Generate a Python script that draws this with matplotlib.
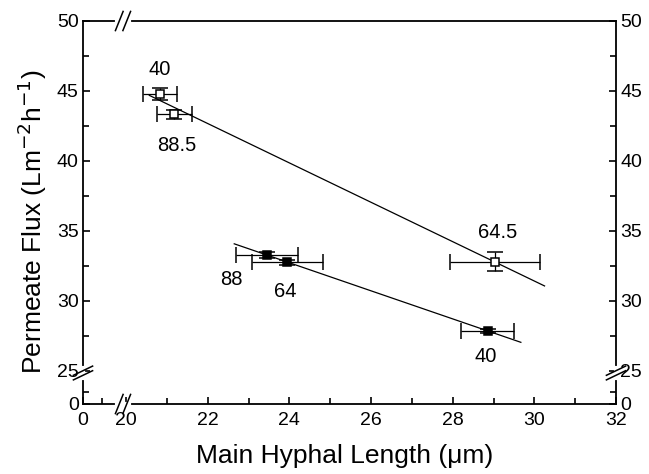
import numpy as np
import matplotlib
matplotlib.use("Agg")
import matplotlib.pyplot as plt
from matplotlib.scale import FuncScale

plt.rcParams['font.family'] = ['Liberation Sans', 'DejaVu Sans']

# ---- data ----
open_x = [20.83, 21.18, 29.03]
open_y = [44.79, 43.34, 32.81]
open_xerr = [0.42, 0.43, 1.10]
open_yerr = [0.44, 0.33, 0.69]
open_labels = ["40", "88.5", "64.5"]
open_label_pos = [(20.83, 46.5), (21.25, 41.1), (29.09, 34.9)]
open_fit_range = [20.57, 30.25]

fill_x = [23.46, 23.95, 28.86]
fill_y = [33.29, 32.76, 27.86]
fill_xerr = [0.76, 0.87, 0.65]
fill_yerr = [0.20, 0.20, 0.15]
fill_labels = ["88", "64", "40"]
fill_label_pos = [(22.57, 31.5), (23.91, 30.7), (28.8, 26.05)]
fill_fit_range = [22.65, 29.67]

x_major = [0, 20, 22, 24, 26, 28, 30, 32]
x_minor = [9, 21, 23, 25, 27, 29, 31]
y_major = [0, 25, 30, 35, 40, 45, 50]
y_minor = [9, 27.5, 32.5, 37.5, 42.5, 47.5]

# ---- broken-axis scales ----
X0 = 18.946
Y0 = 22.64

def fx(x):
    x = np.asarray(x, float)
    return np.where(x < 20, X0 + x * (20 - X0) / 20, x)

def ix(u):
    u = np.asarray(u, float)
    return np.where(u < 20, (u - X0) * 20 / (20 - X0), u)

def fy(y):
    y = np.asarray(y, float)
    return np.where(y < 25, Y0 + y * (25 - Y0) / 25, y)

def iy(v):
    v = np.asarray(v, float)
    return np.where(v < 25, (v - Y0) * 25 / (25 - Y0), v)

fig = plt.figure(figsize=(6.49, 4.74), dpi=100)
ax = fig.add_axes([83/649, 1 - 404/474, (616-83)/649, (404-21)/474])
ax.set_xscale(FuncScale(ax, (fx, ix)))
ax.set_yscale(FuncScale(ax, (fy, iy)))
ax.set_xlim(0, 32)
ax.set_ylim(0, 50)

lw = 0.9
# error bars + markers
ax.errorbar(open_x, open_y, xerr=open_xerr, yerr=open_yerr, fmt='s',
            mfc='white', mec='black', ms=5.5, mew=1.1, ecolor='black',
            elinewidth=lw, capsize=5.5, capthick=1.3, zorder=3)
ax.errorbar(fill_x, fill_y, xerr=fill_xerr, yerr=fill_yerr, fmt='s',
            mfc='black', mec='black', ms=5.5, mew=1.1, ecolor='black',
            elinewidth=lw, capsize=5.5, capthick=1.3, zorder=3)

# linear fits
for xs, ys, rng in [(open_x, open_y, open_fit_range), (fill_x, fill_y, fill_fit_range)]:
    p = np.polyfit(xs, ys, 1)
    xx = np.array(rng)
    ax.plot(xx, np.polyval(p, xx), color='black', lw=lw, zorder=2)

for lab, (tx, ty) in zip(open_labels + fill_labels, open_label_pos + fill_label_pos):
    ax.text(tx, ty, lab, ha='center', va='center', fontsize=14.5)

# ticks
ax.set_xticks(x_major)
ax.set_xticks(x_minor, minor=True)
ax.set_yticks(y_major)
ax.set_yticks(y_minor, minor=True)
ax.set_xticklabels([str(v) for v in x_major])
ax.set_yticklabels([str(v) for v in y_major])
ax.tick_params(axis='both', which='both', direction='in', labelsize=14,
               width=1.2, top=False)
ax.tick_params(axis='y', which='both', right=True, labelright=True, pad=3)
ax.tick_params(which='major', length=5)
ax.tick_params(which='minor', length=4)
ax.tick_params(axis='x', pad=6)
for s in ax.spines.values():
    s.set_linewidth(1.3)

ax.set_xlabel("Main Hyphal Length (\u03bcm)", fontsize=19, labelpad=10)
ax.set_ylabel("Permeate Flux (Lm$^{-2}$h$^{-1}$)", fontsize=19, labelpad=6)
ax.xaxis.set_label_coords(0.49, -0.105, transform=ax.transAxes)
ax.yaxis.label.set_y(0.475)

# break marks
def xbreak(yf):
    xf = (123 - 83) / 533
    d = 0.012
    ax.plot([xf - 0.012, xf + 0.012], [yf, yf], transform=ax.transAxes,
            color='white', lw=3, clip_on=False, zorder=5)
    for off in (-0.007, 0.007):
        ax.plot([xf + off - d*0.6, xf + off + d*0.6], [yf - 0.025, yf + 0.025],
                transform=ax.transAxes, color='black', lw=1.1, clip_on=False, zorder=6)

def ybreak(xf):
    yf = (404 - 373) / 383
    ax.plot([xf, xf], [yf - 0.012, yf + 0.012], transform=ax.transAxes,
            color='white', lw=3, clip_on=False, zorder=5)
    for off in (-0.006, 0.006):
        ax.plot([xf - 0.018, xf + 0.018], [yf + off - 0.012, yf + off + 0.012],
                transform=ax.transAxes, color='black', lw=1.1, clip_on=False, zorder=6)

xbreak(0.0)
xbreak(1.0)
ybreak(0.0)
ybreak(1.0)

fig.savefig("out.png", dpi=100)
